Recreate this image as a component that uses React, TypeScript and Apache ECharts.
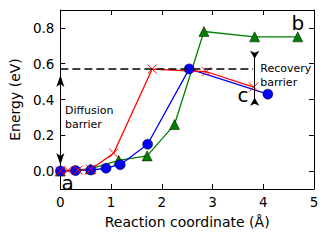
import React, { useEffect, useRef } from "react";
import * as echarts from "echarts";

const xTicks = [0, 1, 2, 3, 4, 5];
const yTicks = [0, 0.2, 0.4, 0.6, 0.8];

const greenX = [0, 0.59, 1.15, 1.71, 2.25, 2.83, 3.83, 4.68];
const greenY = [0, 0.012, 0.06, 0.085, 0.26, 0.78, 0.75, 0.75];
const blueX = [0, 0.3, 0.6, 0.9, 1.18, 1.72, 2.54, 4.09];
const blueY = [0, 0.003, 0.006, 0.016, 0.036, 0.15, 0.571, 0.43];
const redX = [0, 0.15, 0.35, 0.6, 1.05, 1.81, 2.88, 3.81];
const redY = [0, 0.004, 0.006, 0.01, 0.1, 0.57, 0.555, 0.469];

const barrierLevel = 0.571;
const dashEndX = 3.8;
const recoveryX = 3.83;

const labels = [
  { text: "Diffusion", x: 0.09, y: 0.34, size: 11, align: "left" },
  { text: "barrier", x: 0.09, y: 0.262, size: 11, align: "left" },
  { text: "Recovery", x: 3.94, y: 0.571, size: 11, align: "left" },
  { text: "barrier", x: 3.94, y: 0.496, size: 11, align: "left" },
  { text: "a", x: 0.02, y: -0.067, size: 20, align: "left" },
  { text: "b", x: 4.68, y: 0.83, size: 20, align: "center" },
  { text: "c", x: 3.6, y: 0.425, size: 20, align: "center" },
];

const FONT = "DejaVu Sans";

export default function App() {
  const ref = useRef<HTMLDivElement>(null);
  useEffect(() => {
    if (!ref.current) return;
    const chart = echarts.init(ref.current, undefined, { renderer: "svg" });
    const zip = (xs: number[], ys: number[]) => xs.map((x, i) => [x, ys[i]]);
    const axisLine = { show: true, onZero: false, lineStyle: { color: "#000", width: 1 } };
    const crossPath = "path://M0,0L10,10M10,0L0,10";
    chart.setOption({
      animation: false,
      backgroundColor: "#fff",
      grid: { left: 58, right: 15, top: 10, bottom: 53, containLabel: false },
      xAxis: [
        {
          type: "value",
          min: xTicks[0],
          max: xTicks[xTicks.length - 1],
          interval: 1,
          position: "bottom",
          axisLine,
          axisTick: { show: true, inside: true, length: 5, lineStyle: { color: "#000" } },
          axisLabel: { color: "#000", fontSize: 13.5, fontFamily: FONT, margin: 6 },
          splitLine: { show: false },
          name: "Reaction coordinate (Å)",
          nameLocation: "middle",
          nameGap: 26,
          nameTextStyle: { color: "#000", fontSize: 14, fontFamily: FONT },
        },
        {
          type: "value",
          min: xTicks[0],
          max: xTicks[xTicks.length - 1],
          interval: 1,
          position: "top",
          axisLine,
          axisTick: { show: true, inside: true, length: 5, lineStyle: { color: "#000" } },
          axisLabel: { show: false },
          splitLine: { show: false },
        },
      ],
      yAxis: [
        {
          type: "value",
          min: -0.1,
          max: 0.9,
          position: "left",
          axisLine,
          axisTick: {
            show: true,
            inside: true,
            length: 5,
            customValues: yTicks,
            lineStyle: { color: "#000" },
          },
          axisLabel: {
            color: "#000",
            fontSize: 13.5,
            fontFamily: FONT,
            margin: 6,
            customValues: yTicks,
            formatter: (v: number) => v.toFixed(1),
          },
          splitLine: { show: false },
          name: "Energy (eV)",
          nameLocation: "middle",
          nameGap: 36,
          nameTextStyle: { color: "#000", fontSize: 14, fontFamily: FONT },
        },
        {
          type: "value",
          min: -0.1,
          max: 0.9,
          position: "right",
          axisLine,
          axisTick: {
            show: true,
            inside: true,
            length: 5,
            customValues: yTicks,
            lineStyle: { color: "#000" },
          },
          axisLabel: { show: false },
          splitLine: { show: false },
        },
      ],
      series: [
        {
          type: "line",
          data: zip(greenX, greenY),
          symbol: "triangle",
          symbolSize: 10,
          lineStyle: { color: "#008000", width: 1.3 },
          itemStyle: { color: "#008000", borderColor: "#000", borderWidth: 0.5 },
          markLine: {
            silent: true,
            symbol: "none",
            label: { show: false },
            emphasis: { disabled: true },
            animation: false,
            data: [
              [
                { coord: [0, barrierLevel], lineStyle: { color: "#000", width: 1.5, type: [8, 4] } },
                { coord: [dashEndX, barrierLevel] },
              ],
              [
                { coord: [0, 0.034], symbol: "arrow", symbolSize: [6, 12], lineStyle: { color: "#000", width: 1, type: "solid" } },
                { coord: [0, barrierLevel - 0.034], symbol: "arrow", symbolSize: [6, 12] },
              ],
              [
                { coord: [recoveryX, 0.65], lineStyle: { color: "#000", width: 1, type: "solid" } },
                { coord: [recoveryX, 0.38] },
              ],
              [
                { coord: [recoveryX, 0.65], symbol: "none", lineStyle: { color: "#000", width: 1, type: "solid" } },
                { coord: [recoveryX, 0.628], symbol: "arrow", symbolSize: [7, 8] },
              ],
              [
                { coord: [recoveryX, 0.38], symbol: "none", lineStyle: { color: "#000", width: 1, type: "solid" } },
                { coord: [recoveryX, 0.41], symbol: "arrow", symbolSize: [7, 8] },
              ],
            ],
          },
        },
        {
          type: "line",
          data: zip(blueX, blueY),
          symbol: "circle",
          symbolSize: 10,
          lineStyle: { color: "#0000ff", width: 1.3 },
          itemStyle: { color: "#0000ff", borderColor: "#000", borderWidth: 0.5 },
        },
        {
          type: "line",
          data: zip(redX, redY),
          symbol: crossPath,
          symbolSize: 9,
          lineStyle: { color: "#ff0000", width: 1.3 },
          itemStyle: { color: "none", borderColor: "#ff0000", borderWidth: 1 },
        },
      ],
    });
    const graphic = labels.map((l) => {
      const p = chart.convertToPixel({ gridIndex: 0 }, [l.x, l.y]) as number[];
      return {
        type: "text",
        x: p[0],
        y: p[1],
        silent: true,
        z: 10,
        style: {
          text: l.text,
          fill: "#000",
          font: `${l.size}px "${FONT}"`,
          align: l.align,
          verticalAlign: "middle",
        },
      };
    });
    chart.setOption({ graphic });
    return () => chart.dispose();
  }, []);
  return (
    <div
      ref={ref}
      style={{ position: "fixed", left: 0, top: 0, width: 329, height: 242 }}
    />
  );
}
